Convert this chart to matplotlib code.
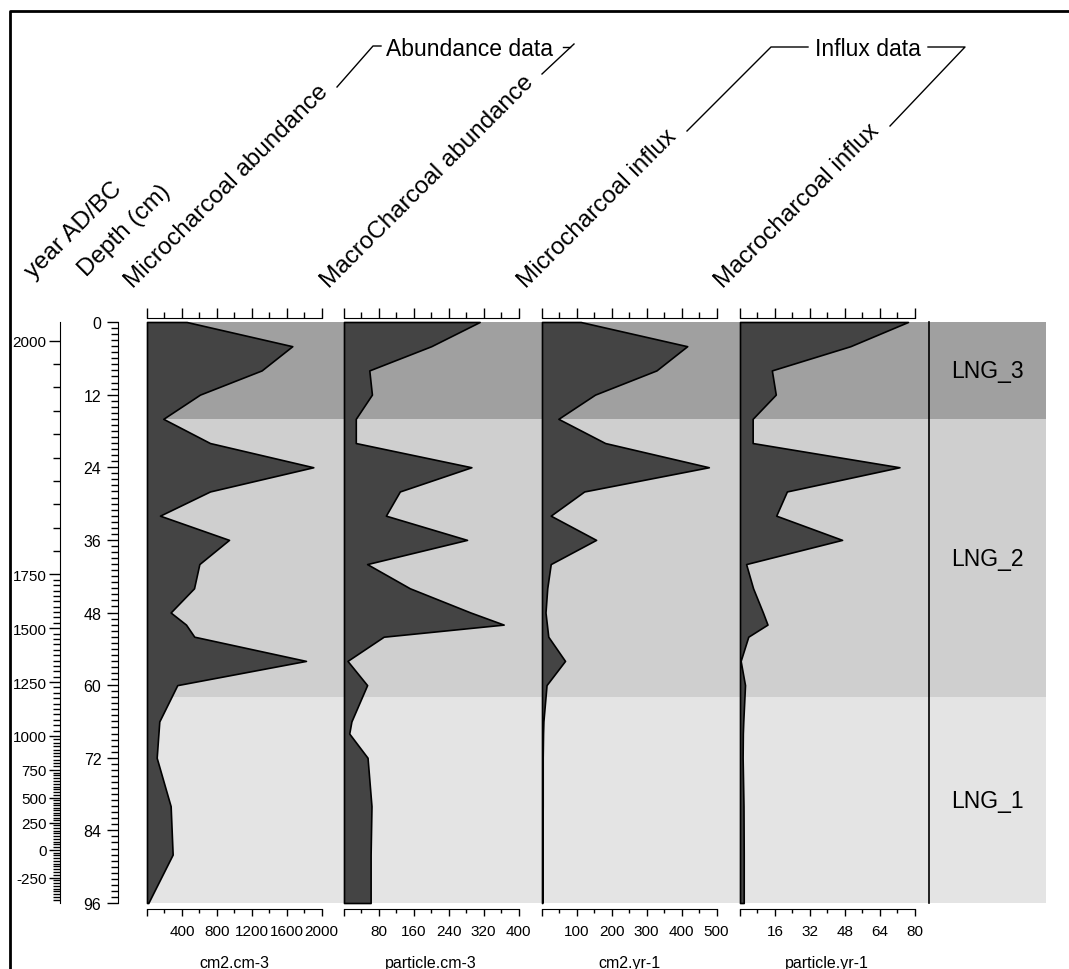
import numpy as np
import matplotlib
matplotlib.use("Agg")
import matplotlib.pyplot as plt
from matplotlib.lines import Line2D
from matplotlib.ticker import MultipleLocator, FixedLocator, FuncFormatter

plt.rcParams["font.family"] = ["Liberation Sans", "DejaVu Sans"]

W, H = 1069, 970

# sample depths (cm) and the four charcoal records
depth = [0, 4, 8, 12, 16, 20, 24, 28, 32, 36, 40, 44, 48, 50, 52, 56, 60, 66, 68, 72, 80, 88, 96]
micro_abund = [455, 1665, 1314, 607, 187, 722, 1906, 722, 149, 940, 600, 539, 271, 447, 542,
               1822, 347, 141, 131, 111, 271, 294, 15]
macro_abund = [311, 200, 58, 64, 27, 27, 292, 128, 96, 282, 53, 151, 290, 366, 91,
               8, 53, 17, 12, 54, 63, 61, 61]
micro_influx = [111, 416, 328, 152, 47, 181, 478, 121, 25, 155, 25, 15, 10, 14, 18,
                66, 13, 4, 3, 2, 2, 1, 1]
macro_influx = [77, 50.6, 14.6, 16.4, 5.8, 5.8, 73.1, 21.5, 16.6, 46.8, 2.8, 6, 10.5, 12.6, 3.8,
                0.3, 2.3, 1.5, 1.3, 1.2, 1.6, 1.7, 1.7]

# age-depth model (depth cm -> year AD/BC)
model_depth = [0, 3.1, 41.7, 50.6, 59.5, 68.4, 74.0, 78.6, 82.7, 87.2, 91.8, 96]
model_age = [2020, 2000, 1750, 1500, 1250, 1000, 750, 500, 250, 0, -250, -480]
age_labels = [2000, 1750, 1500, 1250, 1000, 750, 500, 250, 0, -250]

# zones
zone_names = ["LNG_3", "LNG_2", "LNG_1"]
zone_top = [0, 16, 62]
zone_bottom = [16, 62, 96]
zone_colors = ["#a0a0a0", "#cfcfcf", "#e4e4e4"]

titles = ["Microcharcoal abundance", "MacroCharcoal abundance",
          "Microcharcoal influx", "Macrocharcoal influx"]
units = ["cm2.cm-3", "particle.cm-3", "cm2.yr-1", "particle.yr-1"]
series = [micro_abund, macro_abund, micro_influx, macro_influx]
x_max = [2000, 400, 500, 80]
x_major = [400, 80, 100, 16]

fig = plt.figure(figsize=(W / 100, H / 100), dpi=100)

Y0, Y1 = 323, 904  # pixel rows of depth 0 and 96


def px_axes(x0, x1, y0=Y0, y1=Y1):
    return fig.add_axes([x0 / W, 1 - y1 / H, (x1 - x0) / W, (y1 - y0) / H])


def fx(x):
    return x / W


def fy(y):
    return 1 - y / H


def px_line(pts, lw=1.0):
    xs = [fx(p[0]) for p in pts]
    ys = [fy(p[1]) for p in pts]
    fig.add_artist(Line2D(xs, ys, transform=fig.transFigure, color="black", lw=lw))


# outer frame
px_line([(10, 969), (10, 12), (1069, 12)], lw=2)

# zone shading behind all panels
bg = px_axes(147, 1046)
for top, bot, col in zip(zone_top, zone_bottom, zone_colors):
    bg.axhspan(top, bot, color=col, lw=0)
bg.set_ylim(96, 0)
bg.set_xlim(0, 1)
bg.axis("off")

# zone label column
zax = px_axes(929, 1046)
zax.set_facecolor("none")
zax.set_ylim(96, 0)
zax.set_xlim(0, 1)
for s in ["top", "right", "bottom"]:
    zax.spines[s].set_visible(False)
zax.spines["left"].set_linewidth(1.2)
zax.set_xticks([])
zax.set_yticks([])
for name, top, bot in zip(zone_names, zone_top, zone_bottom):
    zax.text(0.5, (top + bot) / 2, name, ha="center", va="center", fontsize=16.5)

# depth axis
dax = px_axes(118, 119)
dax.set_facecolor("none")
dax.set_ylim(96, 0)
for s in ["top", "right", "bottom"]:
    dax.spines[s].set_visible(False)
dax.set_xticks([])
dax.yaxis.set_major_locator(MultipleLocator(12))
dax.yaxis.set_minor_locator(MultipleLocator(1))
dax.tick_params(axis="y", which="major", length=8, width=1, pad=4, labelsize=11.5)
dax.tick_params(axis="y", which="minor", length=4.8, width=1)

# age axis
aax = px_axes(60, 61)
aax.set_facecolor("none")
aax.set_ylim(96, 0)
for s in ["top", "right", "bottom"]:
    aax.spines[s].set_visible(False)
aax.set_xticks([])
age_inc = model_age[::-1]
depth_inc = model_depth[::-1]
aax.yaxis.set_major_locator(FixedLocator(np.interp(age_labels, age_inc, depth_inc)))
aax.set_yticklabels([str(a) for a in age_labels])
aax.yaxis.set_minor_locator(FixedLocator(np.interp(np.arange(-450, 2001, 25), age_inc, depth_inc)))
aax.tick_params(axis="y", which="major", length=7.7, width=1, pad=2, labelsize=11)
aax.tick_params(axis="y", which="minor", length=5.2, width=1)

fmt = FuncFormatter(lambda v, p: "" if v == 0 else f"{v:g}")
panel_left = [147, 344, 542, 740]
for left, vals, xm, maj, unit in zip(panel_left, series, x_max, x_major, units):
    ax = px_axes(left, left + 174.5)
    ax.set_facecolor("none")
    ax.fill_betweenx(depth, 0, vals, facecolor="#444444", edgecolor="black", lw=1.2,
                     clip_on=False, zorder=3)
    ax.set_xlim(0, xm)
    ax.set_ylim(96, 0)
    for s in ["left", "right", "top"]:
        ax.spines[s].set_visible(False)
    ax.spines["bottom"].set_position(("outward", 4.3))
    ax.set_yticks([])
    ax.xaxis.set_major_locator(MultipleLocator(maj))
    ax.xaxis.set_minor_locator(MultipleLocator(maj / 2))
    ax.xaxis.set_major_formatter(fmt)
    ax.tick_params(axis="x", which="major", length=5, width=1, pad=6, labelsize=11)
    ax.tick_params(axis="x", which="minor", length=3, width=1)
    ax.set_xlabel(unit, fontsize=11.5, labelpad=12)

    sec = ax.secondary_xaxis(1 + 4 / (Y1 - Y0))
    sec.xaxis.set_major_locator(MultipleLocator(maj))
    sec.xaxis.set_minor_locator(MultipleLocator(maj / 2))
    sec.tick_params(axis="x", which="major", length=7, width=1, labeltop=False)
    sec.tick_params(axis="x", which="minor", length=4, width=1)

# rotated column headers
head_text = ["year AD/BC", "Depth (cm)"] + titles
head_x = [37, 90, 137, 333, 530, 727]
head_y = [283, 281, 293, 293, 293, 293]
for t, x, y in zip(head_text, head_x, head_y):
    fig.text(fx(x), fy(y), t, rotation=45, rotation_mode="anchor",
             ha="left", va="bottom", fontsize=17.5)

# group brackets
px_line([(337, 88), (373, 47), (381, 47)])
fig.text(fx(386), fy(56), "Abundance data", ha="left", va="baseline", fontsize=16.5)
px_line([(563, 48), (570, 48)])
px_line([(542, 75), (574, 45)])

px_line([(687, 132), (771, 48), (808, 48)])
fig.text(fx(815), fy(56), "Influx data", ha="left", va="baseline", fontsize=16.5)
px_line([(928, 48), (965, 48), (890, 127)])

fig.savefig("out.png", dpi=100)
